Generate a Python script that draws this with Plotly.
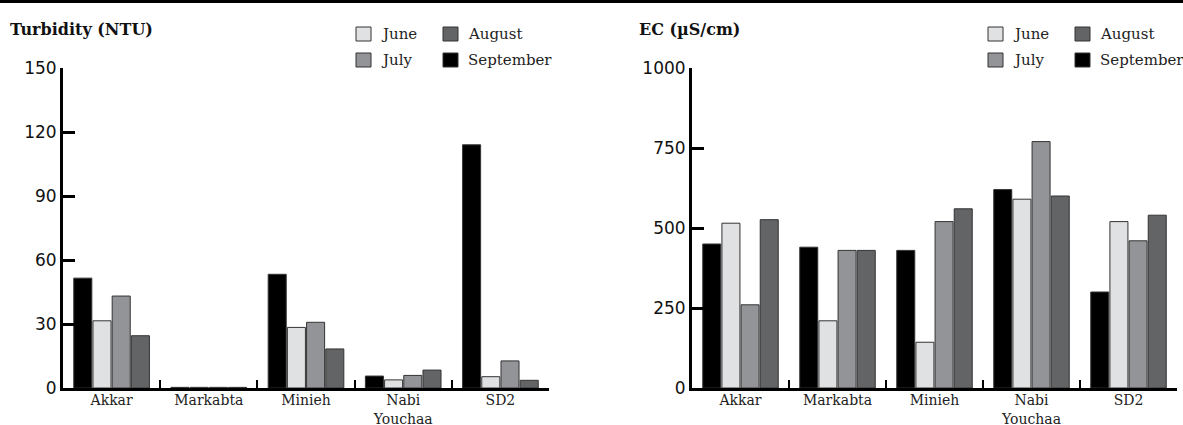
import plotly.graph_objects as go

W, H = 1183, 425

sites = ["Akkar", "Markabta", "Minieh", "Nabi<br>Youchaa", "SD2"]
months = ["September", "June", "July", "August"]
colors = {"September": "#000000", "June": "#e0e1e3", "July": "#939497", "August": "#636466"}

turbidity = {
    "September": [51.5, 0.3, 53.3, 5.6, 114.0],
    "June": [31.5, 0.3, 28.4, 3.8, 5.3],
    "July": [43.1, 0.3, 30.8, 5.9, 12.7],
    "August": [24.5, 0.3, 18.3, 8.4, 3.6],
}
ec = {
    "September": [450, 440, 430, 620, 300],
    "June": [515, 210, 143, 590, 520],
    "July": [260, 430, 520, 770, 460],
    "August": [526, 430, 560, 600, 540],
}
turb_ticks = [0, 30, 60, 90, 120, 150]
ec_ticks = [0, 250, 500, 750, 1000]
legend_order = ["June", "July", "August", "September"]

SERIF = "DejaVu Serif"
SANS = "DejaVu Sans"

def px(x):
    return x / W

def py(y):
    return 1 - y / H

fig = go.Figure()
for data, xa, ya in [(turbidity, "x", "y"), (ec, "x2", "y2")]:
    for m in months:
        fig.add_trace(go.Bar(
            x=sites, y=data[m], name=m, xaxis=xa, yaxis=ya,
            marker=dict(color=colors[m], line=dict(color="#333333", width=1)),
            showlegend=False,
        ))

axis_common_x = dict(
    type="category", showline=True, linecolor="black", linewidth=2.5,
    ticks="inside", tickson="boundaries", ticklen=8, tickwidth=2, tickcolor="black",
    tickfont=dict(family=SERIF, size=14, color="#222222"), ticklabelstandoff=-2,
    showgrid=False, zeroline=False, range=[-0.5, 4.5], fixedrange=True, automargin=False,
)
axis_common_y = dict(
    showline=True, linecolor="black", linewidth=3,
    ticks="inside", ticklen=12, tickwidth=3, tickcolor="black",
    tickfont=dict(family=SANS, size=17, color="#111111"),
    showgrid=False, zeroline=False, fixedrange=True, automargin=False,
)

ydom = [py(388), py(68)]
fig.update_layout(
    width=W, height=H, autosize=False,
    margin=dict(l=0, r=0, t=0, b=0, pad=0),
    paper_bgcolor="white", plot_bgcolor="white",
    barmode="group", bargap=0.21, bargroupgap=0.06, showlegend=False,
    xaxis=dict(domain=[px(63), px(549)], anchor="y", **axis_common_x),
    yaxis=dict(domain=ydom, anchor="x", range=[0, 150], tickvals=turb_ticks, **axis_common_y),
    xaxis2=dict(domain=[px(692), px(1177)], anchor="y2", **axis_common_x),
    yaxis2=dict(domain=ydom, anchor="x2", range=[0, 1000], tickvals=ec_ticks, **axis_common_y),
)

# titles
fig.add_annotation(text="<b>Turbidity (NTU)</b>", xref="paper", yref="paper",
                   x=px(8), y=py(30), xanchor="left", yanchor="middle", showarrow=False,
                   font=dict(family=SERIF, size=16, color="#111111"))
fig.add_annotation(text="<b>EC (µS/cm)</b>", xref="paper", yref="paper",
                   x=px(637), y=py(30), xanchor="left", yanchor="middle", showarrow=False,
                   font=dict(family=SERIF, size=16, color="#111111"))

# legends (two columns per panel)
slots = {"June": (356, 34), "July": (356, 60), "August": (443, 34), "September": (443, 60)}
for shift in (0, 632):
    for m in legend_order:
        bx, cy = slots[m]
        bx += shift
        fig.add_shape(type="rect", xref="paper", yref="paper",
                      x0=px(bx), x1=px(bx + 15), y0=py(cy + 7), y1=py(cy - 7),
                      fillcolor=colors[m], line=dict(color="#333333", width=1))
        fig.add_annotation(text=m, xref="paper", yref="paper",
                           x=px(bx + 23), y=py(cy), xanchor="left", yanchor="middle",
                           showarrow=False,
                           font=dict(family=SERIF, size=15, color="#222222"))

fig.add_shape(type="line", xref="paper", yref="paper", x0=0, x1=1, y0=py(1.5), y1=py(1.5),
              line=dict(color="black", width=3))

fig.write_html(
    "out.html",
    config={"displayModeBar": False, "staticPlot": True},
    post_script="document.body.style.margin='0';document.body.style.overflow='hidden';",
)
